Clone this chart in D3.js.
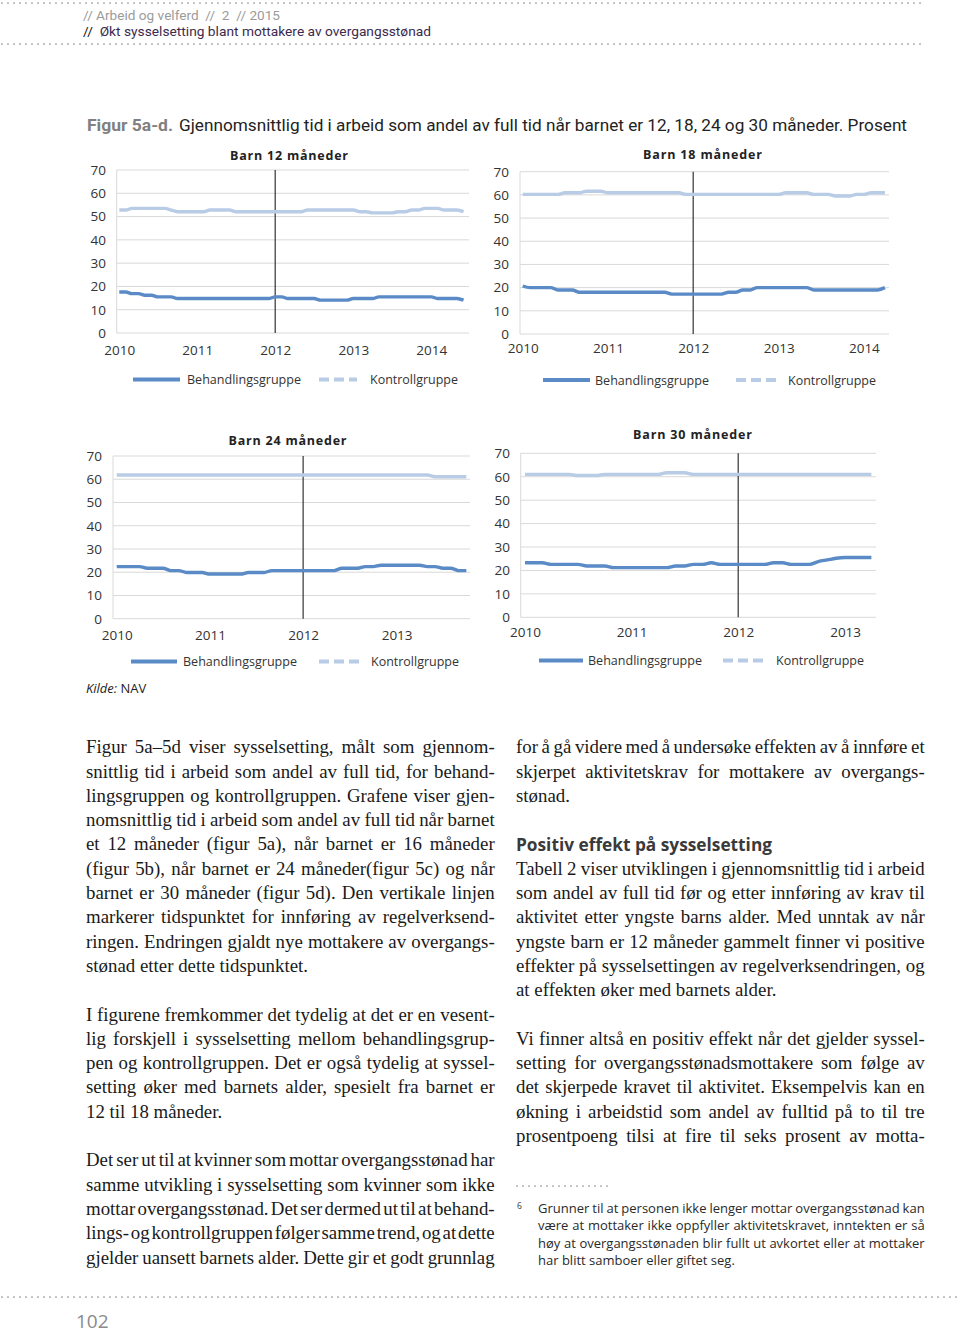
<!DOCTYPE html>
<html><head><meta charset="utf-8">
<script src="https://cdn.jsdelivr.net/npm/d3@7"></script>
<style>body{margin:0;background:#fff}svg{display:block}</style>
</head><body>
<svg id="page" width="960" height="1334"></svg>
<script>
// ---------------- DATA ----------------
const yTicks = [0,10,20,30,40,50,60,70];
const seriesNames = ["Behandlingsgruppe","Kontrollgruppe"];
const chartTitles = ["Barn 12 måneder","Barn 18 måneder","Barn 24 måneder","Barn 30 måneder"];
const years12 = ["2010","2011","2012","2013","2014"];
const years18 = ["2010","2011","2012","2013","2014"];
const years24 = ["2010","2011","2012","2013"];
const years30 = ["2010","2011","2012","2013"];
const reformYear = "2012";
const firstMonth = "2010-01";

// monthly values, Jan 2010 onward
const behandling12 = [17.6,17.6,16.9,16.9,16.2,16.2,15.5,15.5,15.5,
 14.8,14.8,14.8,14.8,14.8,14.8,14.8,14.8,14.8,14.8,14.8,14.8,14.8,14.8,14.8,
 15.5,15.5,14.8,14.8,14.8,14.8,14.8,14.1,14.1,14.1,14.1,14.1,
 14.8,14.8,14.8,14.8,15.5,15.5,15.5,15.5,15.5,15.5,15.5,15.5,15.5,
 14.8,14.8,14.8,14.8,14.1];
const kontroll12 = [52.8,52.8,53.5,53.5,53.5,53.5,53.5,53.5,52.8,
 52.1,52.1,52.1,52.1,52.1,52.8,52.8,52.8,52.8,
 52.1,52.1,52.1,52.1,52.1,52.1,52.1,52.1,52.1,52.1,52.1,
 52.8,52.8,52.8,52.8,52.8,52.8,52.8,52.8,52.1,52.1,
 51.6,51.6,51.6,51.6,52.1,52.1,52.8,52.8,53.5,53.5,53.5,52.8,52.8,52.8,52.1];
const behandling18 = [20.7,20.0,20.0,20.0,20.0,19.0,19.0,19.0,
 18.0,18.0,18.0,18.0,18.0,18.0,18.0,18.0,18.0,18.0,18.0,18.0,18.0,
 17.2,17.2,17.2,17.2,17.2,17.2,17.2,17.2,18.0,18.0,19.0,19.0,
 20.0,20.0,20.0,20.0,20.0,20.0,20.0,20.0,
 19.0,19.0,19.0,19.0,19.0,19.0,19.0,19.0,19.0,19.0,20.0];
const kontroll18 = [60.2,60.2,60.2,60.2,60.2,60.2,60.9,60.9,60.9,61.6,61.6,61.6,
 60.9,60.9,60.9,60.9,60.9,60.9,60.9,60.9,60.9,60.9,60.9,
 60.2,60.2,60.2,60.2,60.2,60.2,60.2,60.2,60.2,60.2,60.2,60.2,60.2,60.2,
 60.9,60.9,60.9,60.9,60.2,60.2,60.2,59.5,59.5,59.5,60.2,60.2,60.9,60.9,60.9];
const behandling24 = [22.4,22.4,22.4,22.4,21.7,21.7,21.7,20.7,20.7,19.9,19.9,19.9,
 19.2,19.2,19.2,19.2,19.2,19.9,19.9,19.9,
 20.7,20.7,20.7,20.7,20.7,20.7,20.7,20.7,20.7,21.7,21.7,21.7,22.4,22.4,
 23.0,23.0,23.0,23.0,23.0,23.0,22.4,22.4,21.7,21.7,20.7,20.7];
const kontroll24 = [61.8,61.8,61.8,61.8,61.8,61.8,61.8,61.8,61.8,61.8,61.8,61.8,
 61.8,61.8,61.8,61.8,61.8,61.8,61.8,61.8,61.8,61.8,61.8,61.8,
 61.8,61.8,61.8,61.8,61.8,61.8,61.8,61.8,61.8,61.8,61.8,61.8,61.8,61.8,61.8,61.8,61.8,
 61.1,61.1,61.1,61.1,61.1];
const behandling30 = [23.3,23.3,23.3,22.6,22.6,22.6,22.6,21.9,21.9,21.9,
 21.2,21.2,21.2,21.2,21.2,21.2,21.2,21.9,21.9,22.6,22.6,23.3,
 22.6,22.6,22.6,22.6,22.6,22.6,23.3,23.3,22.6,22.6,22.6,23.8,24.5,25.2,25.5,25.5,25.5,25.5];
const kontroll30 = [61.0,61.0,61.0,61.0,61.0,61.0,60.5,60.5,60.5,
 61.0,61.0,61.0,61.0,61.0,61.0,61.0,61.7,61.7,61.7,
 61.0,61.0,61.0,61.0,61.0,61.0,61.0,61.0,61.0,61.0,61.0,61.0,61.0,61.0,61.0,61.0,61.0,61.0,61.0,61.0,61.0];

// ---------------- TEXT ----------------
const headerLine1 = "// Arbeid og velferd  //  2  // 2015";
const headerLine2a = "//  ";
const headerLine2b = "Økt sysselsetting blant mottakere av overgangsstønad";
const figLabel = "Figur 5a-d.";
const figTitle = "Gjennomsnittlig tid i arbeid som andel av full tid når barnet er 12, 18, 24 og 30 måneder. Prosent";
const sourceLabel = "Kilde:";
const sourceName = "NAV";
const pageNumber = "102";
const heading = "Positiv effekt på sysselsetting";

const leftColumn = [
 ["Figur 5a–5d viser sysselsetting, målt som gjennom-",
  "snittlig tid i arbeid som andel av full tid, for behand-",
  "lingsgruppen og kontrollgruppen. Grafene viser gjen-",
  "nomsnittlig tid i arbeid som andel av full tid når barnet",
  "et 12 måneder (figur 5a), når barnet er 16 måneder",
  "(figur 5b), når barnet er 24 måneder(figur 5c) og når",
  "barnet er 30 måneder (figur 5d). Den vertikale linjen",
  "markerer tidspunktet for innføring av regelverksend-",
  "ringen. Endringen gjaldt nye mottakere av overgangs-",
  "stønad etter dette tidspunktet."],
 ["I figurene fremkommer det tydelig at det er en vesent-",
  "lig forskjell i sysselsetting mellom behandlingsgrup-",
  "pen og kontrollgruppen. Det er også tydelig at syssel-",
  "setting øker med barnets alder, spesielt fra barnet er",
  "12 til 18 måneder."],
 ["Det ser ut til at kvinner som mottar overgangsstønad har",
  "samme utvikling i sysselsetting som kvinner som ikke",
  "mottar overgangsstønad. Det ser dermed ut til at behand-",
  "lings- og kontrollgruppen følger samme trend, og at dette",
  "gjelder uansett barnets alder. Dette gir et godt grunnlag"]
];
const rightColumnA = ["for å gå videre med å undersøke effekten av å innføre et",
  "skjerpet aktivitetskrav for mottakere av overgangs-",
  "stønad."];
const rightColumnB = ["Tabell 2 viser utviklingen i gjennomsnittlig tid i arbeid",
  "som andel av full tid før og etter innføring av krav til",
  "aktivitet etter yngste barns alder. Med unntak av når",
  "yngste barn er 12 måneder gammelt finner vi positive",
  "effekter på sysselsettingen av regelverksendringen, og",
  "at effekten øker med barnets alder."];
const rightColumnC = ["Vi finner altså en positiv effekt når det gjelder syssel-",
  "setting for overgangsstønadsmottakere som følge av",
  "det skjerpede kravet til aktivitet. Eksempelvis kan en",
  "økning i arbeidstid som andel av fulltid på to til tre",
  "prosentpoeng tilsi at fire til seks prosent av motta-"];
const footnoteMark = "6";
const footnote = ["Grunner til at personen ikke lenger mottar overgangsstønad kan",
  "være at mottaker ikke oppfyller aktivitetskravet, inntekten er så",
  "høy at overgangsstønaden blir fullt ut avkortet eller at mottaker",
  "har blitt samboer eller giftet seg."];

// ---------------- LAYOUT ----------------
const C_B = "#5a8bc6", C_K = "#b8cce6";
const svg = d3.select("#page");
const SANS = "'Open Sans', 'Noto Sans', sans-serif";

function dots(x0, x1, y) {
  svg.append("line").attr("x1", x0).attr("x2", x1).attr("y1", y).attr("y2", y)
    .attr("stroke", "#8c8c8c").attr("stroke-width", 1.7).attr("stroke-linecap", "round")
    .attr("stroke-dasharray", "0 6");
}
dots(2, 926, 3);
dots(2, 926, 44);
dots(517, 613, 1186);
dots(2, 960, 1297);

svg.append("text").attr("x", 83).attr("y", 19.5).attr("font-family", "Roboto, sans-serif")
  .attr("font-size", 13).attr("fill", "#9b9b9b").attr("textLength", 197)
  .attr("lengthAdjust", "spacingAndGlyphs").style("white-space", "pre").text(headerLine1);
const h2 = svg.append("text").attr("x", 83).attr("y", 35.5).attr("font-family", "Roboto, sans-serif")
  .attr("font-size", 13).attr("textLength", 348).attr("lengthAdjust", "spacingAndGlyphs")
  .style("white-space", "pre");
h2.append("tspan").attr("fill", "#111").text(headerLine2a);
h2.append("tspan").attr("fill", "#3d2a4e").text(headerLine2b);

svg.append("text").attr("x", 87).attr("y", 130.5).attr("font-family", "Roboto, sans-serif")
  .attr("font-size", 17).attr("font-weight", "bold").attr("fill", "#808080")
  .attr("textLength", 86).attr("lengthAdjust", "spacingAndGlyphs").text(figLabel);
svg.append("text").attr("x", 179).attr("y", 130.5).attr("font-family", "Roboto, sans-serif")
  .attr("font-size", 17).attr("fill", "#222").attr("textLength", 728)
  .attr("lengthAdjust", "spacingAndGlyphs").text(figTitle);

// chart layout (positions only)
const charts = [
 {title: chartTitles[0], years: years12, b: behandling12, k: kontroll12,
  x2010: 119.3, perYear: 78, gx0: 116.7, gx1: 469, y0: 333, y70: 170, labRight: 106, xPad: 12.2,
  titleX: 230, titleW: 118, titleY: 160, legY: 379.5, leg: [133, 180, 187, 319, 357, 370]},
 {title: chartTitles[1], years: years18, b: behandling18, k: kontroll18,
  x2010: 522.7, perYear: 85.3, gx0: 520, gx1: 889, y0: 334, y70: 171.7, labRight: 509, xPad: 9.4,
  titleX: 643, titleW: 119, titleY: 158.5, legY: 380, leg: [543, 590, 595, 736, 777, 788]},
 {title: chartTitles[2], years: years24, b: behandling24, k: kontroll24,
  x2010: 116.7, perYear: 93.3, gx0: 113, gx1: 470, y0: 618.7, y70: 456, labRight: 102, xPad: 11.5,
  titleX: 228.5, titleW: 118, titleY: 445, legY: 661.5, leg: [131, 177, 183, 319, 360, 371]},
 {title: chartTitles[3], years: years30, b: behandling30, k: kontroll30,
  x2010: 525, perYear: 106.7, gx0: 520.7, gx1: 876, y0: 617.3, y70: 453.3, labRight: 510, xPad: 9.8,
  titleX: 633, titleW: 119, titleY: 438.5, legY: 660.5, leg: [539, 583, 588, 723, 767, 776]}
];

const parseMonth = d3.timeParse("%Y-%m");
const parseYear = d3.timeParse("%Y");
const start = parseMonth(firstMonth);

charts.forEach(c => {
  const yrs = c.years.map(parseYear);
  const x = d3.scaleTime().domain([yrs[0], yrs[yrs.length - 1]])
    .range([c.x2010, c.x2010 + c.perYear * (yrs.length - 1)]);
  const y = d3.scaleLinear().domain([0, 70]).range([c.y0, c.y70]);
  const g = svg.append("g");

  // gridlines
  g.append("g").selectAll("line").data(yTicks).join("line")
    .attr("x1", c.gx0).attr("x2", c.gx1).attr("y1", d => y(d)).attr("y2", d => y(d))
    .attr("stroke", "#d9d9d9").attr("stroke-width", 1);
  g.append("line").attr("x1", c.gx0).attr("x2", c.gx0).attr("y1", y(0)).attr("y2", y(70))
    .attr("stroke", "#d9d9d9");

  // y axis labels
  const ya = g.append("g").attr("transform", `translate(${c.gx0},0)`)
    .call(d3.axisLeft(y).tickValues(yTicks).tickSize(0).tickPadding(c.gx0 - c.labRight));
  ya.select(".domain").remove();
  ya.attr("font-family", SANS).attr("font-size", 13.5);
  ya.selectAll("text").attr("fill", "#333");

  // x axis labels
  const xa = g.append("g").attr("transform", `translate(0,${c.y0})`)
    .call(d3.axisBottom(x).tickValues(yrs).tickSize(0).tickPadding(c.xPad).tickFormat(d3.timeFormat("%Y")));
  xa.select(".domain").remove();
  xa.attr("font-family", SANS).attr("font-size", 13.5);
  xa.selectAll("text").attr("fill", "#333");

  // reform line
  const xr = x(parseYear(reformYear));
  g.append("line").attr("x1", xr).attr("x2", xr).attr("y1", y(70)).attr("y2", y(0))
    .attr("stroke", "#333").attr("stroke-width", 1.2);

  const line = d3.line().x((d, i) => x(d3.timeMonth.offset(start, i))).y(d => y(d))
    .curve(d3.curveMonotoneX);
  g.append("path").attr("d", line(c.k)).attr("fill", "none").attr("stroke", C_K)
    .attr("stroke-width", 3.4);
  g.append("path").attr("d", line(c.b)).attr("fill", "none").attr("stroke", C_B)
    .attr("stroke-width", 3.4);

  // title
  g.append("text").attr("x", c.titleX).attr("y", c.titleY).attr("font-family", SANS)
    .attr("font-size", 12.5).attr("font-weight", "bold").attr("fill", "#222")
    .attr("textLength", c.titleW).attr("lengthAdjust", "spacing").text(c.title);

  // legend
  const L = c.leg;
  g.append("line").attr("x1", L[0]).attr("x2", L[1]).attr("y1", c.legY).attr("y2", c.legY)
    .attr("stroke", C_B).attr("stroke-width", 4);
  g.append("text").attr("x", L[2]).attr("y", c.legY + 4.7).attr("font-family", SANS)
    .attr("font-size", 13).attr("fill", "#333").attr("textLength", 114)
    .attr("lengthAdjust", "spacingAndGlyphs").text(seriesNames[0]);
  g.append("line").attr("x1", L[3]).attr("x2", L[4]).attr("y1", c.legY).attr("y2", c.legY)
    .attr("stroke", C_K).attr("stroke-width", 4).attr("stroke-dasharray", "10,5");
  g.append("text").attr("x", L[5]).attr("y", c.legY + 4.7).attr("font-family", SANS)
    .attr("font-size", 13).attr("fill", "#333").attr("textLength", 88)
    .attr("lengthAdjust", "spacingAndGlyphs").text(seriesNames[1]);
});

// source
const src = svg.append("text").attr("x", 86).attr("y", 692.5).attr("font-family", SANS)
  .attr("font-size", 13).attr("fill", "#222");
src.append("tspan").attr("font-style", "italic").text(sourceLabel + " ");
src.append("tspan").text(sourceName);

// ---------- body text with justification ----------
const LH = 24.3;
function buildColumn(items, x0, width, startY) {
  let yb = startY; const out = [];
  items.forEach(it => {
    if (it.type === "blank") { yb += LH; return; }
    out.push({...it, y: yb, x0, width}); yb += LH;
  });
  return out;
}
const leftItems = [];
leftColumn.forEach((p, pi) => {
  p.forEach((t, li) => leftItems.push({type: "line", t,
    j: li < p.length - 1 || pi === leftColumn.length - 1}));
  if (pi < leftColumn.length - 1) leftItems.push({type: "blank"});
});
const rightItems = [];
rightColumnA.forEach((t, i) => rightItems.push({type: "line", t, j: i < rightColumnA.length - 1}));
rightItems.push({type: "blank"});
rightItems.push({type: "heading", t: heading});
rightColumnB.forEach((t, i) => rightItems.push({type: "line", t, j: i < rightColumnB.length - 1}));
rightItems.push({type: "blank"});
rightColumnC.forEach((t) => rightItems.push({type: "line", t, j: true}));

const bodyLines = buildColumn(leftItems, 86, 409, 753.3).concat(buildColumn(rightItems, 516, 409, 753.3));

function justifyBlock(lines, font, size, color, q) {
  const els = lines.map(l => {
    const gg = svg.append("g");
    const t = gg.append("text").attr("x", 0).attr("y", l.y).attr("font-family", font)
      .attr("font-size", size).attr("fill", color).text(l.t);
    return {l, gg, t, w: t.node().getComputedTextLength()};
  });
  const ratios = els.filter(e => e.l.j).map(e => e.l.width / e.w).sort(d3.ascending);
  const s = d3.quantile(ratios, q);
  els.forEach(e => {
    e.gg.attr("transform", `translate(${e.l.x0},0) scale(${s},1)`);
    if (e.l.j) {
      const n = (e.l.t.match(/ /g) || []).length;
      if (n > 0) e.t.style("word-spacing", ((e.l.width / s - e.w) / n) + "px");
    }
  });
  return s;
}
const headingLine = bodyLines.filter(l => l.type === "heading");
justifyBlock(bodyLines.filter(l => l.type === "line"), "'Liberation Serif', 'Times New Roman', serif", 19.5, "#1a1a1a", 0.25);
headingLine.forEach(l => {
  svg.append("text").attr("x", 516).attr("y", l.y).attr("font-family", SANS)
    .attr("font-size", 17.5).attr("font-weight", "bold").attr("fill", "#3a3a3a")
    .attr("textLength", 256).attr("lengthAdjust", "spacingAndGlyphs").text(l.t);
});

// footnote
svg.append("text").attr("x", 517).attr("y", 1209).attr("font-family", SANS)
  .attr("font-size", 8.5).attr("fill", "#333").text(footnoteMark);
const fnLines = footnote.map((t, i) => ({t, j: i < footnote.length - 1, y: 1213.3 + i * 17.2, x0: 538, width: 387}));
justifyBlock(fnLines, SANS, 12.5, "#2a2a2a", 0.3);

// page number
svg.append("text").attr("x", 76).attr("y", 1328.3).attr("font-family", SANS)
  .attr("font-size", 19).attr("fill", "#8a8a8a").text(pageNumber);
</script>
</body></html>
